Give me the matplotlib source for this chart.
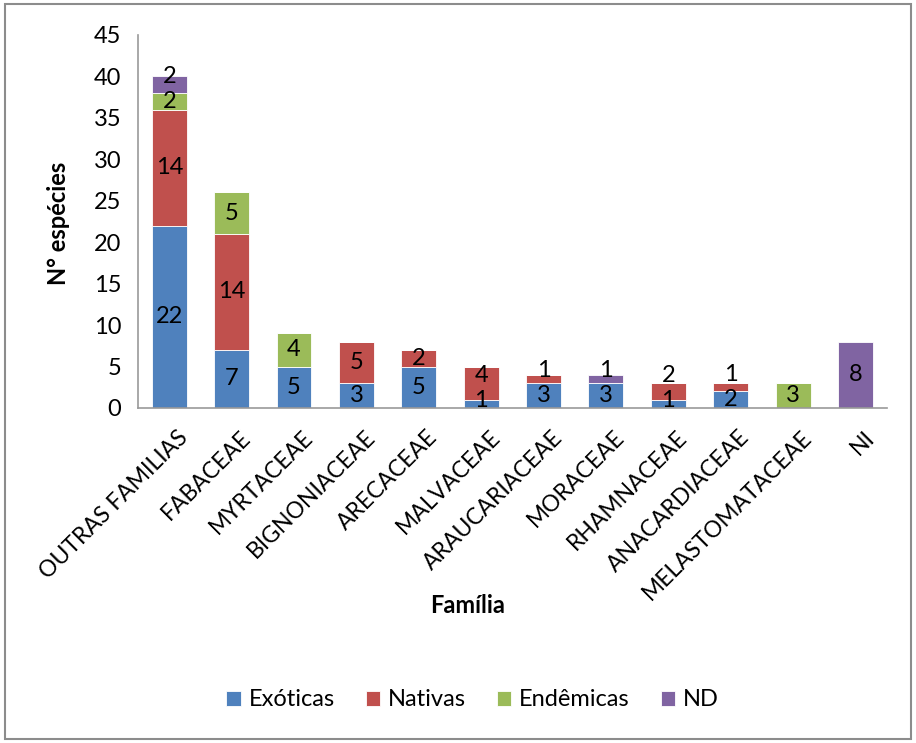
import matplotlib
matplotlib.use("Agg")
import matplotlib.pyplot as plt
from matplotlib.patches import Rectangle
import matplotlib.transforms as mtransforms
import numpy as np

familias = ["OUTRAS FAMILIAS", "FABACEAE", "MYRTACEAE", "BIGNONIACEAE", "ARECACEAE",
            "MALVACEAE", "ARAUCARIACEAE", "MORACEAE", "RHAMNACEAE", "ANACARDIACEAE",
            "MELASTOMATACEAE", "NI"]
exoticas = [22, 7, 5, 3, 5, 1, 3, 3, 1, 2, 0, 0]
nativas = [14, 14, 0, 5, 2, 4, 1, 0, 2, 1, 0, 0]
endemicas = [2, 5, 4, 0, 0, 0, 0, 0, 0, 0, 3, 0]
nd = [2, 0, 0, 0, 0, 0, 0, 1, 0, 0, 0, 8]

series = [("Exóticas", exoticas, "#4F81BD"),
          ("Nativas", nativas, "#C0504D"),
          ("Endêmicas", endemicas, "#9BBB59"),
          ("ND", nd, "#8064A2")]

plt.rcParams["font.family"] = ["Lato", "DejaVu Sans"]

fig = plt.figure(figsize=(9.16, 7.43), dpi=100)
ax = fig.add_axes([0.1507, 0.4509, 0.8173, 0.502])

x = np.arange(len(familias))
bottom = np.zeros(len(familias))
handles = []
label_slots = [[] for _ in familias]  # (centre, value) per bar
for name, vals, color in series:
    vals = np.array(vals, dtype=float)
    bars = ax.bar(x, vals, 0.56, bottom=bottom, color=color, label=name,
                  edgecolor="white", linewidth=0.6)
    for i, (v, b) in enumerate(zip(vals, bottom)):
        if v > 0:
            label_slots[i].append((b + v / 2, int(v)))
    bottom += vals
    handles.append(bars)

# keep the value labels inside a bar from running into each other
min_gap, floor = 3.0, 0.9
for i, slots in enumerate(label_slots):
    prev = None
    for centre, v in slots:
        y = max(centre, floor) if prev is None else max(centre, prev + min_gap)
        ax.text(x[i], y, str(v), ha="center", va="center", fontsize=17, color="black")
        prev = y

ax.set_xlim(-0.5, len(familias) - 0.5)
ax.set_ylim(0, 45)
ax.set_yticks(range(0, 46, 5))
ax.tick_params(axis="y", length=0, labelsize=17, pad=12)
ax.tick_params(axis="x", length=0, labelsize=16.5, pad=4)
ax.set_xticks(x)
ax.set_xticklabels(familias, rotation=45, ha="right", rotation_mode="anchor")
shift = mtransforms.ScaledTranslation(0.08, -0.13, fig.dpi_scale_trans)
for lbl in ax.get_xticklabels():
    lbl.set_transform(lbl.get_transform() + shift)

for s in ["top", "right"]:
    ax.spines[s].set_visible(False)
for s in ["left", "bottom"]:
    ax.spines[s].set_color("#999999")
    ax.spines[s].set_linewidth(1.2)

fig.text(0.064, 0.7, "N° espécies", rotation=90, ha="center", va="center",
         fontsize=17, fontweight="bold")
fig.text(0.51, 0.185, "Família", ha="center", va="center",
         fontsize=17, fontweight="bold")

fig.legend(handles=handles, loc="center", bbox_to_anchor=(0.516, 0.058), ncol=4,
           frameon=False, fontsize=17, handlelength=0.6, handleheight=0.6,
           handletextpad=0.35, columnspacing=1.3)

fig.add_artist(Rectangle((0.006, 0.006), 0.988, 0.988, transform=fig.transFigure,
                         fill=False, edgecolor="#8C8C8C", linewidth=1.5))

fig.savefig("out.png", dpi=100)
